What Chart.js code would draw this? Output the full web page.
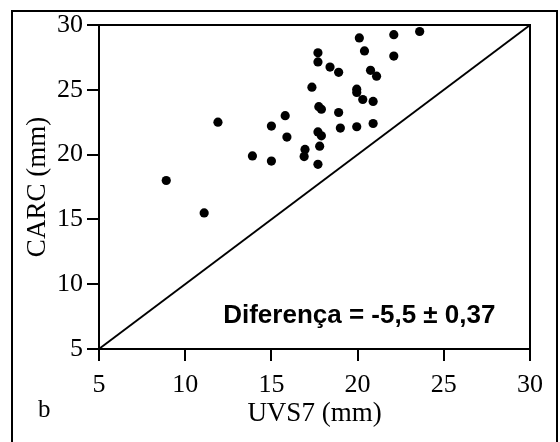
<!DOCTYPE html>
<html>
<head>
<meta charset="utf-8">
<script src="https://cdn.jsdelivr.net/npm/chart.js@4.4.1/dist/chart.umd.min.js"></script>
<style>
  body { margin: 0; background: #fff; }
  #wrap { position: relative; width: 560px; height: 442px; overflow: hidden; }
  #frame { position: absolute; left: 11px; top: 10px; width: 543px; height: 450px; border: 2px solid #000; }
  #panel { position: absolute; left: 38px; top: 395px; font: 25px "Liberation Serif", serif; color: #000; }
  canvas { position: absolute; left: 0; top: 0; }
</style>
</head>
<body>
<div id="wrap">
  <div id="frame"></div>
  <canvas id="chart" width="560" height="442"></canvas>
  <div id="panel">b</div>
</div>
<script>
// ✅ Data
const uvs7 = [11.9, 15.0, 13.9, 15.0, 8.9, 11.1, 20.1, 22.1, 23.6, 17.7, 17.7, 20.4,
  22.1, 18.4, 18.9, 20.75, 21.1, 17.35, 19.95, 19.95, 20.3, 20.9, 17.75, 17.9,
  18.9, 15.8, 19.0, 19.95, 20.9, 15.9, 17.7, 17.9, 16.95, 16.9, 17.8, 17.7];
const carc = [22.5, 22.2, 19.9, 19.5, 18.0, 15.5, 29.0, 29.25, 29.5, 27.85, 27.15, 28.0,
  27.6, 26.75, 26.35, 26.5, 26.05, 25.2, 25.05, 24.8, 24.25, 24.1, 23.7, 23.5,
  23.25, 23.0, 22.05, 22.15, 22.4, 21.35, 21.75, 21.45, 20.4, 19.85, 20.65, 19.25];
const identityLine = [5, 30];
const axisTicks = [5, 10, 15, 20, 25, 30];
const annotationText = "Diferença = -5,5 ± 0,37";
const annotationAt = [20.1, 7.55];

// ✅ Build points
const points = uvs7.map((x, i) => ({ x: x, y: carc[i] }));
const linePoints = identityLine.map(v => ({ x: v, y: v }));

// ✅ Frame around the plot area + annotation text
const extras = {
    id: "extras",
    afterDatasetsDraw(chart) {
        const { ctx, chartArea, scales } = chart;
        ctx.save();
        ctx.strokeStyle = "#000";
        ctx.lineWidth = 2;
        ctx.beginPath();
        ctx.moveTo(chartArea.left, chartArea.top);
        ctx.lineTo(chartArea.right, chartArea.top);
        ctx.lineTo(chartArea.right, chartArea.bottom);
        ctx.stroke();
        ctx.fillStyle = "#000";
        ctx.font = "bold 26px 'Liberation Sans', Arial, sans-serif";
        ctx.textAlign = "center";
        ctx.textBaseline = "middle";
        ctx.fillText(annotationText, scales.x.getPixelForValue(annotationAt[0]), scales.y.getPixelForValue(annotationAt[1]));
        ctx.restore();
    }
};

const serif = "'Liberation Serif', 'Times New Roman', serif";

const ctx = document.getElementById("chart").getContext("2d");
new Chart(ctx, {
    type: "scatter",
    data: {
        datasets: [
            {
                label: "pontos",
                data: points,
                backgroundColor: "#000",
                borderColor: "#000",
                borderWidth: 0,
                pointRadius: 4.6,
                pointHoverRadius: 4.6
            },
            {
                type: "line",
                label: "identidade",
                data: linePoints,
                borderColor: "#000",
                borderWidth: 1.8,
                pointRadius: 0,
                fill: false
            }
        ]
    },
    options: {
        responsive: false,
        animation: false,
        devicePixelRatio: 1,
        layout: { padding: { left: 0, top: 25, right: 30, bottom: 0 } },
        plugins: { legend: { display: false }, tooltip: { enabled: false } },
        scales: {
            x: {
                type: "linear",
                min: 5,
                max: 30,
                afterBuildTicks(s) { s.ticks = axisTicks.map(v => ({ value: v })); },
                afterFit(s) { s.height = 93; },
                ticks: { color: "#000", font: { family: serif, size: 26 }, padding: 9, maxRotation: 0 },
                grid: { drawOnChartArea: false, color: "#000", lineWidth: 2, tickLength: 12 },
                border: { color: "#000", width: 2 },
                title: { display: true, text: "UVS7 (mm)", color: "#000", font: { family: serif, size: 27 }, padding: { top: 0, bottom: 12 } }
            },
            y: {
                type: "linear",
                min: 5,
                max: 30,
                afterBuildTicks(s) { s.ticks = axisTicks.map(v => ({ value: v })); },
                afterFit(s) { s.width = 99; },
                ticks: { color: "#000", font: { family: serif, size: 26 }, padding: 4 },
                grid: { drawOnChartArea: false, color: "#000", lineWidth: 2, tickLength: 12 },
                border: { color: "#000", width: 2 },
                title: { display: true, text: "CARC (mm)", color: "#000", font: { family: serif, size: 27 }, padding: { top: 22, bottom: 0 } }
            }
        }
    },
    plugins: [extras]
});
</script>
</body>
</html>
